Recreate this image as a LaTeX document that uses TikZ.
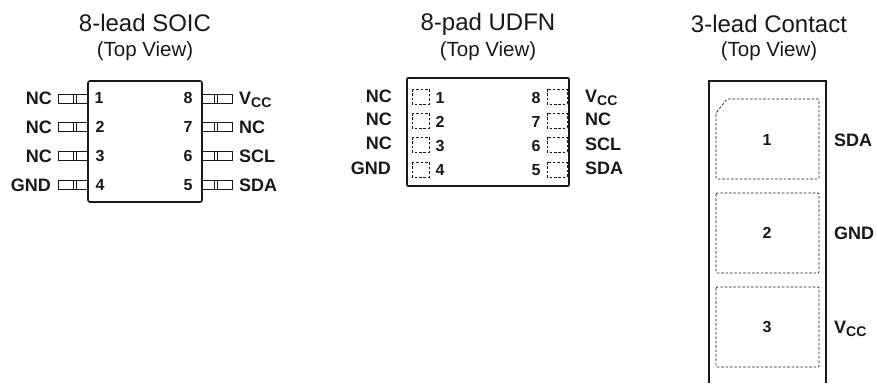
\documentclass[tikz,border=0pt]{standalone}
\usepackage{fontspec}
\setmainfont{Liberation Sans}
\newfontfamily\pinfont{Liberation Sans Bold}
\definecolor{ink}{HTML}{1A1718}
\newcommand{\vcc}{V\raisebox{-0.14em}{\fontsize{14}{14}\selectfont CC}}
\tikzset{
  body/.style={draw=ink,line width=1.6pt},
  lead/.style={draw=ink,line width=0.7pt},
  pad/.style={draw=ink,line width=0.7pt,dash pattern=on 2.6pt off 1.8pt},
  title/.style={inner sep=0pt,text=ink,font=\fontsize{24}{25}\selectfont},
  view/.style={inner sep=0pt,text=ink,font=\fontsize{20.5}{22}\selectfont},
  pin/.style={inner sep=0pt,text=ink,font=\pinfont\fontsize{18}{18}\selectfont},
  num/.style={inner sep=0pt,text=ink,font=\pinfont\fontsize{16}{17}\selectfont}
}
\begin{document}
\begin{tikzpicture}[x=1pt,y=-1pt]
\useasboundingbox (0,0) rectangle (877,383);

% 8-lead SOIC
\node[title] (soictitle) at (145,23) {8-lead SOIC};
\node[view] (soicview) at (145,51) {(Top View)};
\draw[body,rounded corners=2pt] (88,81) rectangle (202,202);

\draw[lead] (58,94.5) rectangle (88,103.5) (73,94.5) -- (73,103.5) (76,94.5) -- (76,103.5);
\draw[lead] (58,122.5) rectangle (88,131.5) (73,122.5) -- (73,131.5) (76,122.5) -- (76,131.5);
\draw[lead] (58,151.5) rectangle (88,160.5) (73,151.5) -- (73,160.5) (76,151.5) -- (76,160.5);
\draw[lead] (58,180.5) rectangle (88,189.5) (73,180.5) -- (73,189.5) (76,180.5) -- (76,189.5);
\draw[lead] (202,94.5) rectangle (232,103.5) (214,94.5) -- (214,103.5) (217,94.5) -- (217,103.5);
\draw[lead] (202,122.5) rectangle (232,131.5) (214,122.5) -- (214,131.5) (217,122.5) -- (217,131.5);
\draw[lead] (202,151.5) rectangle (232,160.5) (214,151.5) -- (214,160.5) (217,151.5) -- (217,160.5);
\draw[lead] (202,180.5) rectangle (232,189.5) (214,180.5) -- (214,189.5) (217,180.5) -- (217,189.5);

\node[num] (soicone) at (99,98) {1};
\node[num] (soictwo) at (100,127) {2};
\node[num] (soicthree) at (100,156) {3};
\node[num] (soicfour) at (100,185) {4};
\node[num] (soiceight) at (188,98) {8};
\node[num] (soicseven) at (188,127) {7};
\node[num] (soicsix) at (188,156) {6};
\node[num] (soicfive) at (188,185) {5};

\node[pin,anchor=east] (soicnca) at (52,98) {NC};
\node[pin,anchor=east] (soicncb) at (52,127) {NC};
\node[pin,anchor=east] (soicncc) at (52,156) {NC};
\node[pin,anchor=east] (soicgnd) at (51,185) {GND};
\node[pin,anchor=base west] (soicvcc) at (239,104.5) {\vcc};
\node[pin,anchor=west] (soicncd) at (239,127) {NC};
\node[pin,anchor=west] (soicscl) at (239,156) {SCL};
\node[pin,anchor=west] (soicsda) at (239,185) {SDA};

% 8-pad UDFN
\node[title] (udfntitle) at (488,24) {8-pad UDFN};
\node[view] (udfnview) at (488,51) {(Top View)};
\draw[body,rounded corners=1pt] (407,78) rectangle (569,186);

\draw[pad] (412,89) rectangle (429,104);
\draw[pad] (412,113) rectangle (429,128);
\draw[pad] (412,137) rectangle (429,152);
\draw[pad] (412,162) rectangle (429,177);
\draw[pad] (547,89) rectangle (567,104);
\draw[pad] (547,113) rectangle (567,128);
\draw[pad] (547,137) rectangle (567,152);
\draw[pad] (547,162) rectangle (567,177);

\node[num] (udfnone) at (440,98) {1};
\node[num] (udfntwo) at (440,122) {2};
\node[num] (udfnthree) at (440,146) {3};
\node[num] (udfnfour) at (440,170) {4};
\node[num] (udfneight) at (536,98) {8};
\node[num] (udfnseven) at (536,122) {7};
\node[num] (udfnsix) at (536,146) {6};
\node[num] (udfnfive) at (536,170) {5};

\node[pin,anchor=east] (udfnnca) at (392,96) {NC};
\node[pin,anchor=east] (udfnncb) at (392,119.5) {NC};
\node[pin,anchor=east] (udfnncc) at (392,143) {NC};
\node[pin,anchor=east] (udfngnd) at (391,168) {GND};
\node[pin,anchor=base west] (udfnvcc) at (585,102.5) {\vcc};
\node[pin,anchor=west] (udfnncd) at (585,119.5) {NC};
\node[pin,anchor=west] (udfnscl) at (585,144) {SCL};
\node[pin,anchor=west] (udfnsda) at (585,168) {SDA};

% 3-lead Contact
\node[title] (contacttitle) at (769,24) {3-lead Contact};
\node[view] (contactview) at (769,51) {(Top View)};
\draw[body] (709,383) -- (709,81) -- (826,81) -- (826,383);

\draw[pad,rounded corners=1pt] (716,113) -- (727,99) -- (819,99) -- (819,179) -- (716,179) -- cycle;
\draw[pad,rounded corners=1pt] (716,193) rectangle (819,273);
\draw[pad,rounded corners=1pt] (716,287) rectangle (819,367);

\node[num] (contactone) at (767,140) {1};
\node[num] (contacttwo) at (767,233) {2};
\node[num] (contactthree) at (767,327) {3};

\node[pin,anchor=west] (contactsda) at (834,140) {SDA};
\node[pin,anchor=west] (contactgnd) at (834,233) {GND};
\node[pin,anchor=base west] (contactvcc) at (834,333.5) {\vcc};

\end{tikzpicture}
\end{document}
